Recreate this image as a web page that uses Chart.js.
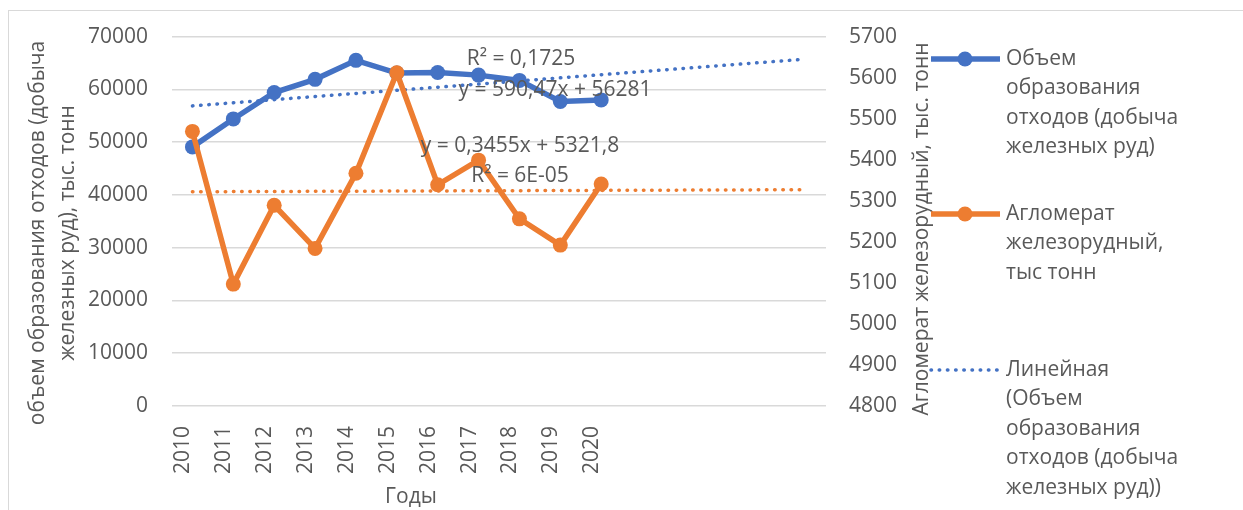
<!DOCTYPE html>
<html><head><meta charset="utf-8">
<script src="https://cdn.jsdelivr.net/npm/chart.js@4"></script>
<style>html,body{margin:0;padding:0;background:#fff;overflow:hidden}canvas{display:block}</style>
</head><body>
<canvas id="c" width="1243" height="510"></canvas>
<script>
const years = ['2010','2011','2012','2013','2014','2015','2016','2017','2018','2019','2020','','','','',''];
const wasteVolume = [49100,54400,59400,61900,65500,63100,63200,62700,61700,57700,58000];
const agglomerate = [5469,5097,5289,5184,5367,5612,5339,5399,5256,5192,5341];
const wasteTrendEnds = [56870,65730];
const aggloTrendEnds = [5322,5327];
const leftTicks = [0,10000,20000,30000,40000,50000,60000,70000];
const rightTicks = [4800,4900,5000,5100,5200,5300,5400,5500,5600,5700];
const seriesNames = ['Объем образования отходов (добыча железных руд)','Агломерат железорудный, тыс тонн','Линейная (Объем образования отходов (добыча железных руд))','Линейная (Агломерат железорудный, тыс тонн)'];
const leftTitle = ['объем образования отходов (добыча','железных руд), тыс. тонн'];
const rightTitle = 'Агломерат железорудный, тыс. тонн';
const xTitle = 'Годы';
const equations = ['R² = 0,1725','y = 590,47x + 56281','y = 0,3455x + 5321,8','R² = 6E-05'];

const BLUE='#4472C4', ORANGE='#ED7D31', TXT='#595959', GRID='#D9D9D9';
const FONT='"Open Sans"';
function trend(ends){const a=years.map(()=>null);a[0]=ends[0];a[years.length-1]=ends[1];return a;}

const textPlugin={id:'texts',
 beforeDraw(chart){const c=chart.ctx;c.save();c.strokeStyle=GRID;c.lineWidth=1;c.strokeRect(8.5,10.5,1400,700);c.restore();},
 afterDraw(chart){
  const c=chart.ctx;c.save();c.fillStyle=TXT;c.font='21px '+FONT;c.textAlign='center';c.textBaseline='middle';
  c.save();c.translate(38,233);c.rotate(-Math.PI/2);c.fillText(leftTitle[0],0,0);c.restore();
  c.save();c.translate(68,233);c.rotate(-Math.PI/2);c.fillText(leftTitle[1],0,0);c.restore();
  c.save();c.translate(922,229);c.rotate(-Math.PI/2);c.fillText(rightTitle,0,0);c.restore();
  c.fillText(xTitle,411,497);
  const eqPos=[[521,59],[555,90],[520,146],[520,176]];
  equations.forEach((t,i)=>c.fillText(t,eqPos[i][0],eqPos[i][1]));
  const items=[{name:seriesNames[0],y:59},{name:seriesNames[1],y:214},{name:seriesNames[2],y:370}];
  c.textAlign='left';
  items.forEach(it=>{
   const d=chart.data.datasets.find(ds=>ds.label===it.name);
   c.save();c.strokeStyle=d.borderColor;c.lineWidth=d.borderWidth;c.lineCap=d.borderCapStyle||'butt';
   c.setLineDash(d.borderDash||[]);c.beginPath();c.moveTo(931,it.y);c.lineTo(1000,it.y);c.stroke();
   if(d.pointRadius>0){c.setLineDash([]);c.fillStyle=d.backgroundColor;c.beginPath();c.arc(965,it.y,d.pointRadius,0,Math.PI*2);c.fill();}
   c.restore();
   const words=d.label.split(' ');const lines=[];let cur='';
   words.forEach(w=>{const t=cur?cur+' '+w:w;if(c.measureText(t).width>178&&cur){lines.push(cur);cur=w;}else cur=t;});
   lines.push(cur);
   lines.forEach((l,k)=>c.fillText(l,1006,it.y+k*29.5));
  });
  c.restore();
 }};

const tickFont={family:FONT,size:21};
new Chart(document.getElementById('c'),{
 type:'line',
 data:{labels:years,datasets:[
  {label:seriesNames[1],data:agglomerate,yAxisID:'y2',borderColor:ORANGE,backgroundColor:ORANGE,borderWidth:5.5,pointRadius:7.5,pointBorderWidth:0,pointBackgroundColor:ORANGE,tension:0,order:0},
  {label:seriesNames[0],data:wasteVolume,yAxisID:'y',borderColor:BLUE,backgroundColor:BLUE,borderWidth:5.5,pointRadius:7.5,pointBorderWidth:0,pointBackgroundColor:BLUE,tension:0,order:1},
  {label:seriesNames[2],data:trend(wasteTrendEnds),yAxisID:'y',borderColor:BLUE,borderWidth:3.5,borderDash:[0.5,7.7],borderCapStyle:'round',pointRadius:0,spanGaps:true,order:2},
  {label:seriesNames[3],data:trend(aggloTrendEnds),yAxisID:'y2',borderColor:ORANGE,borderWidth:3.5,borderDash:[0.5,7.7],borderCapStyle:'round',pointRadius:0,spanGaps:true,order:3}
 ]},
 options:{responsive:false,animation:false,devicePixelRatio:1,
  layout:{padding:{top:31,left:0,right:0,bottom:0}},
  plugins:{legend:{display:false},tooltip:{enabled:false}},
  scales:{
   x:{offset:true,grid:{display:false},border:{display:false},
      ticks:{color:TXT,font:tickFont,minRotation:90,maxRotation:90,autoSkip:false,padding:12,labelOffset:-9},
      afterFit(s){s.height=104;}},
   y:{position:'left',min:0,max:70000,afterBuildTicks(s){s.ticks=leftTicks.map(v=>({value:v}));},
      grid:{color:GRID,lineWidth:1.5,drawTicks:false},border:{display:false},
      ticks:{color:TXT,font:tickFont,padding:24,callback:v=>String(v)},
      afterFit(s){s.width=172;}},
   y2:{position:'right',min:4800,max:5700,afterBuildTicks(s){s.ticks=rightTicks.map(v=>({value:v}));},
      grid:{display:false,drawTicks:false},border:{display:false},
      ticks:{color:TXT,font:tickFont,padding:23,callback:v=>String(v)},
      afterFit(s){s.width=417;}}
  }},
 plugins:[textPlugin]
});
</script></body></html>
